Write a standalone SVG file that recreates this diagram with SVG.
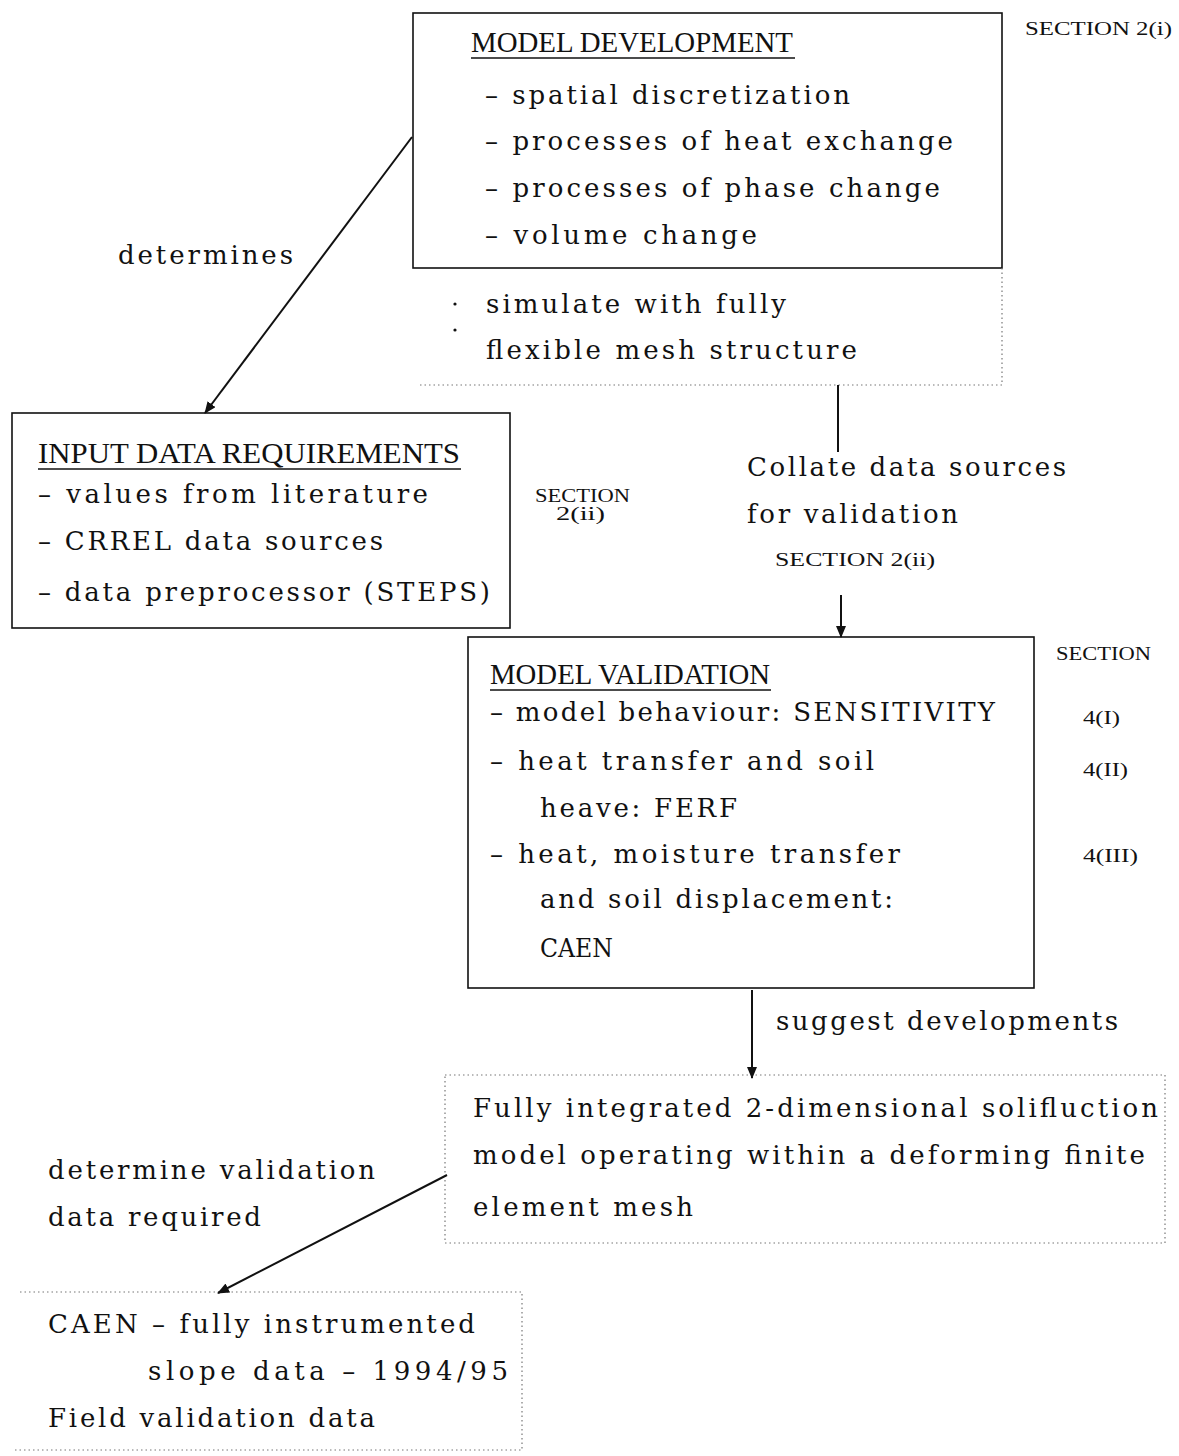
<svg xmlns="http://www.w3.org/2000/svg" width="1179" height="1456" viewBox="0 0 1179 1456">
<style>
text{font-family:"DejaVu Serif","Liberation Serif",serif;fill:#111;}
.b{font-size:26px;}
.h{font-family:"Liberation Serif","DejaVu Serif",serif;font-size:29px;}
.s{font-family:"Liberation Serif","DejaVu Serif",serif;font-size:18px;}
.box{fill:none;stroke:#111;stroke-width:1.6;}
.dot{fill:none;stroke:#777;stroke-width:1.2;stroke-dasharray:1.5 3;}
.u{stroke:#111;stroke-width:1.6;}
.c{stroke:#111;stroke-width:2;fill:none;}
</style>
<defs>
<marker id="ah" markerWidth="12" markerHeight="10" refX="11" refY="5" orient="auto" markerUnits="userSpaceOnUse">
<path d="M0,0 L12,5 L0,10 Z" fill="#111"/>
</marker>
</defs>
<rect width="1179" height="1456" fill="#fff"/>

<g id="model-development">
<rect class="box" x="413" y="13" width="589" height="255"/>
<text class="h" x="471" y="52" textLength="322" lengthAdjust="spacingAndGlyphs">MODEL DEVELOPMENT</text>
<line class="u" x1="471" y1="58" x2="795" y2="58"/>
<text class="b" x="485" y="104" textLength="365" lengthAdjust="spacing">– spatial discretization</text>
<text class="b" x="485" y="150" textLength="468" lengthAdjust="spacing">– processes of heat exchange</text>
<text class="b" x="485" y="197" textLength="455" lengthAdjust="spacing">– processes of phase change</text>
<text class="b" x="485" y="244" textLength="272" lengthAdjust="spacing">– volume change</text>
<path class="dot" d="M1002,268 V385 H420"/>
<circle cx="455" cy="304" r="1.6" fill="#111"/>
<circle cx="455" cy="330" r="1.6" fill="#111"/>
<text class="b" x="486" y="313" textLength="300" lengthAdjust="spacing">simulate with fully</text>
<text class="b" x="486" y="359" textLength="371" lengthAdjust="spacing">flexible mesh structure</text>
<text class="s" x="1025" y="35" textLength="147" lengthAdjust="spacingAndGlyphs">SECTION 2(i)</text>
</g>

<g id="input-data">
<rect class="box" x="12" y="413" width="498" height="215"/>
<text class="h" x="38" y="463" textLength="422" lengthAdjust="spacingAndGlyphs">INPUT DATA REQUIREMENTS</text>
<line class="u" x1="38" y1="469" x2="461" y2="469"/>
<text class="b" x="38" y="503" textLength="390" lengthAdjust="spacing">– values from literature</text>
<text class="b" x="38" y="550" textLength="345" lengthAdjust="spacing">– CRREL data sources</text>
<text class="b" x="38" y="601" textLength="452" lengthAdjust="spacing">– data preprocessor (STEPS)</text>
<text class="s" x="535" y="502" textLength="95" lengthAdjust="spacingAndGlyphs">SECTION</text>
<text class="s" x="556" y="520" textLength="49" lengthAdjust="spacingAndGlyphs">2(ii)</text>
</g>

<g id="collate">
<text class="b" x="747" y="476" textLength="319" lengthAdjust="spacing">Collate data sources</text>
<text class="b" x="747" y="523" textLength="211" lengthAdjust="spacing">for validation</text>
<text class="s" x="775" y="566" textLength="160" lengthAdjust="spacingAndGlyphs">SECTION 2(ii)</text>
</g>

<g id="model-validation">
<rect class="box" x="468" y="637" width="566" height="351"/>
<text class="h" x="490" y="684" textLength="280" lengthAdjust="spacingAndGlyphs">MODEL VALIDATION</text>
<line class="u" x1="490" y1="690" x2="771" y2="690"/>
<text class="b" x="490" y="721" textLength="505" lengthAdjust="spacing">– model behaviour: SENSITIVITY</text>
<text class="b" x="490" y="770" textLength="384" lengthAdjust="spacing">– heat transfer and soil</text>
<text class="b" x="540" y="817" textLength="197" lengthAdjust="spacing">heave:  FERF</text>
<text class="b" x="490" y="863" textLength="410" lengthAdjust="spacing">– heat, moisture transfer</text>
<text class="b" x="540" y="908" textLength="353" lengthAdjust="spacing">and soil displacement:</text>
<text class="b" x="540" y="957" textLength="73" lengthAdjust="spacingAndGlyphs">CAEN</text>
<text class="s" x="1056" y="660" textLength="95" lengthAdjust="spacingAndGlyphs">SECTION</text>
<text class="s" x="1083" y="724" textLength="37" lengthAdjust="spacingAndGlyphs">4(I)</text>
<text class="s" x="1083" y="776" textLength="45" lengthAdjust="spacingAndGlyphs">4(II)</text>
<text class="s" x="1083" y="862" textLength="55" lengthAdjust="spacingAndGlyphs">4(III)</text>
</g>

<g id="integrated-model">
<rect class="dot" x="445" y="1075" width="720" height="168"/>
<text class="b" x="473" y="1117" textLength="685" lengthAdjust="spacing">Fully integrated 2-dimensional solifluction</text>
<text class="b" x="473" y="1164" textLength="672" lengthAdjust="spacing">model operating within a deforming finite</text>
<text class="b" x="473" y="1216" textLength="220" lengthAdjust="spacing">element mesh</text>
</g>

<g id="field-data">
<path class="dot" d="M20,1292 H522 V1450 H12"/>
<text class="b" x="48" y="1333" textLength="427" lengthAdjust="spacing">CAEN – fully instrumented</text>
<text class="b" x="148" y="1380" textLength="360" lengthAdjust="spacing">slope data – 1994/95</text>
<text class="b" x="48" y="1427" textLength="327" lengthAdjust="spacing">Field validation data</text>
</g>

<g id="connectors">
<line class="c" x1="412" y1="137" x2="205" y2="413" marker-end="url(#ah)"/>
<text class="b" x="118" y="264" textLength="175" lengthAdjust="spacing">determines</text>
<line class="c" x1="838" y1="385" x2="838" y2="452"/>
<line class="c" x1="841" y1="595" x2="841" y2="637" marker-end="url(#ah)"/>
<line class="c" x1="752" y1="990" x2="752" y2="1078" marker-end="url(#ah)"/>
<text class="b" x="776" y="1030" textLength="342" lengthAdjust="spacing">suggest developments</text>
<line class="c" x1="447" y1="1175" x2="218" y2="1293" marker-end="url(#ah)"/>
<text class="b" x="48" y="1179" textLength="327" lengthAdjust="spacing">determine validation</text>
<text class="b" x="48" y="1226" textLength="213" lengthAdjust="spacing">data required</text>
</g>
</svg>
